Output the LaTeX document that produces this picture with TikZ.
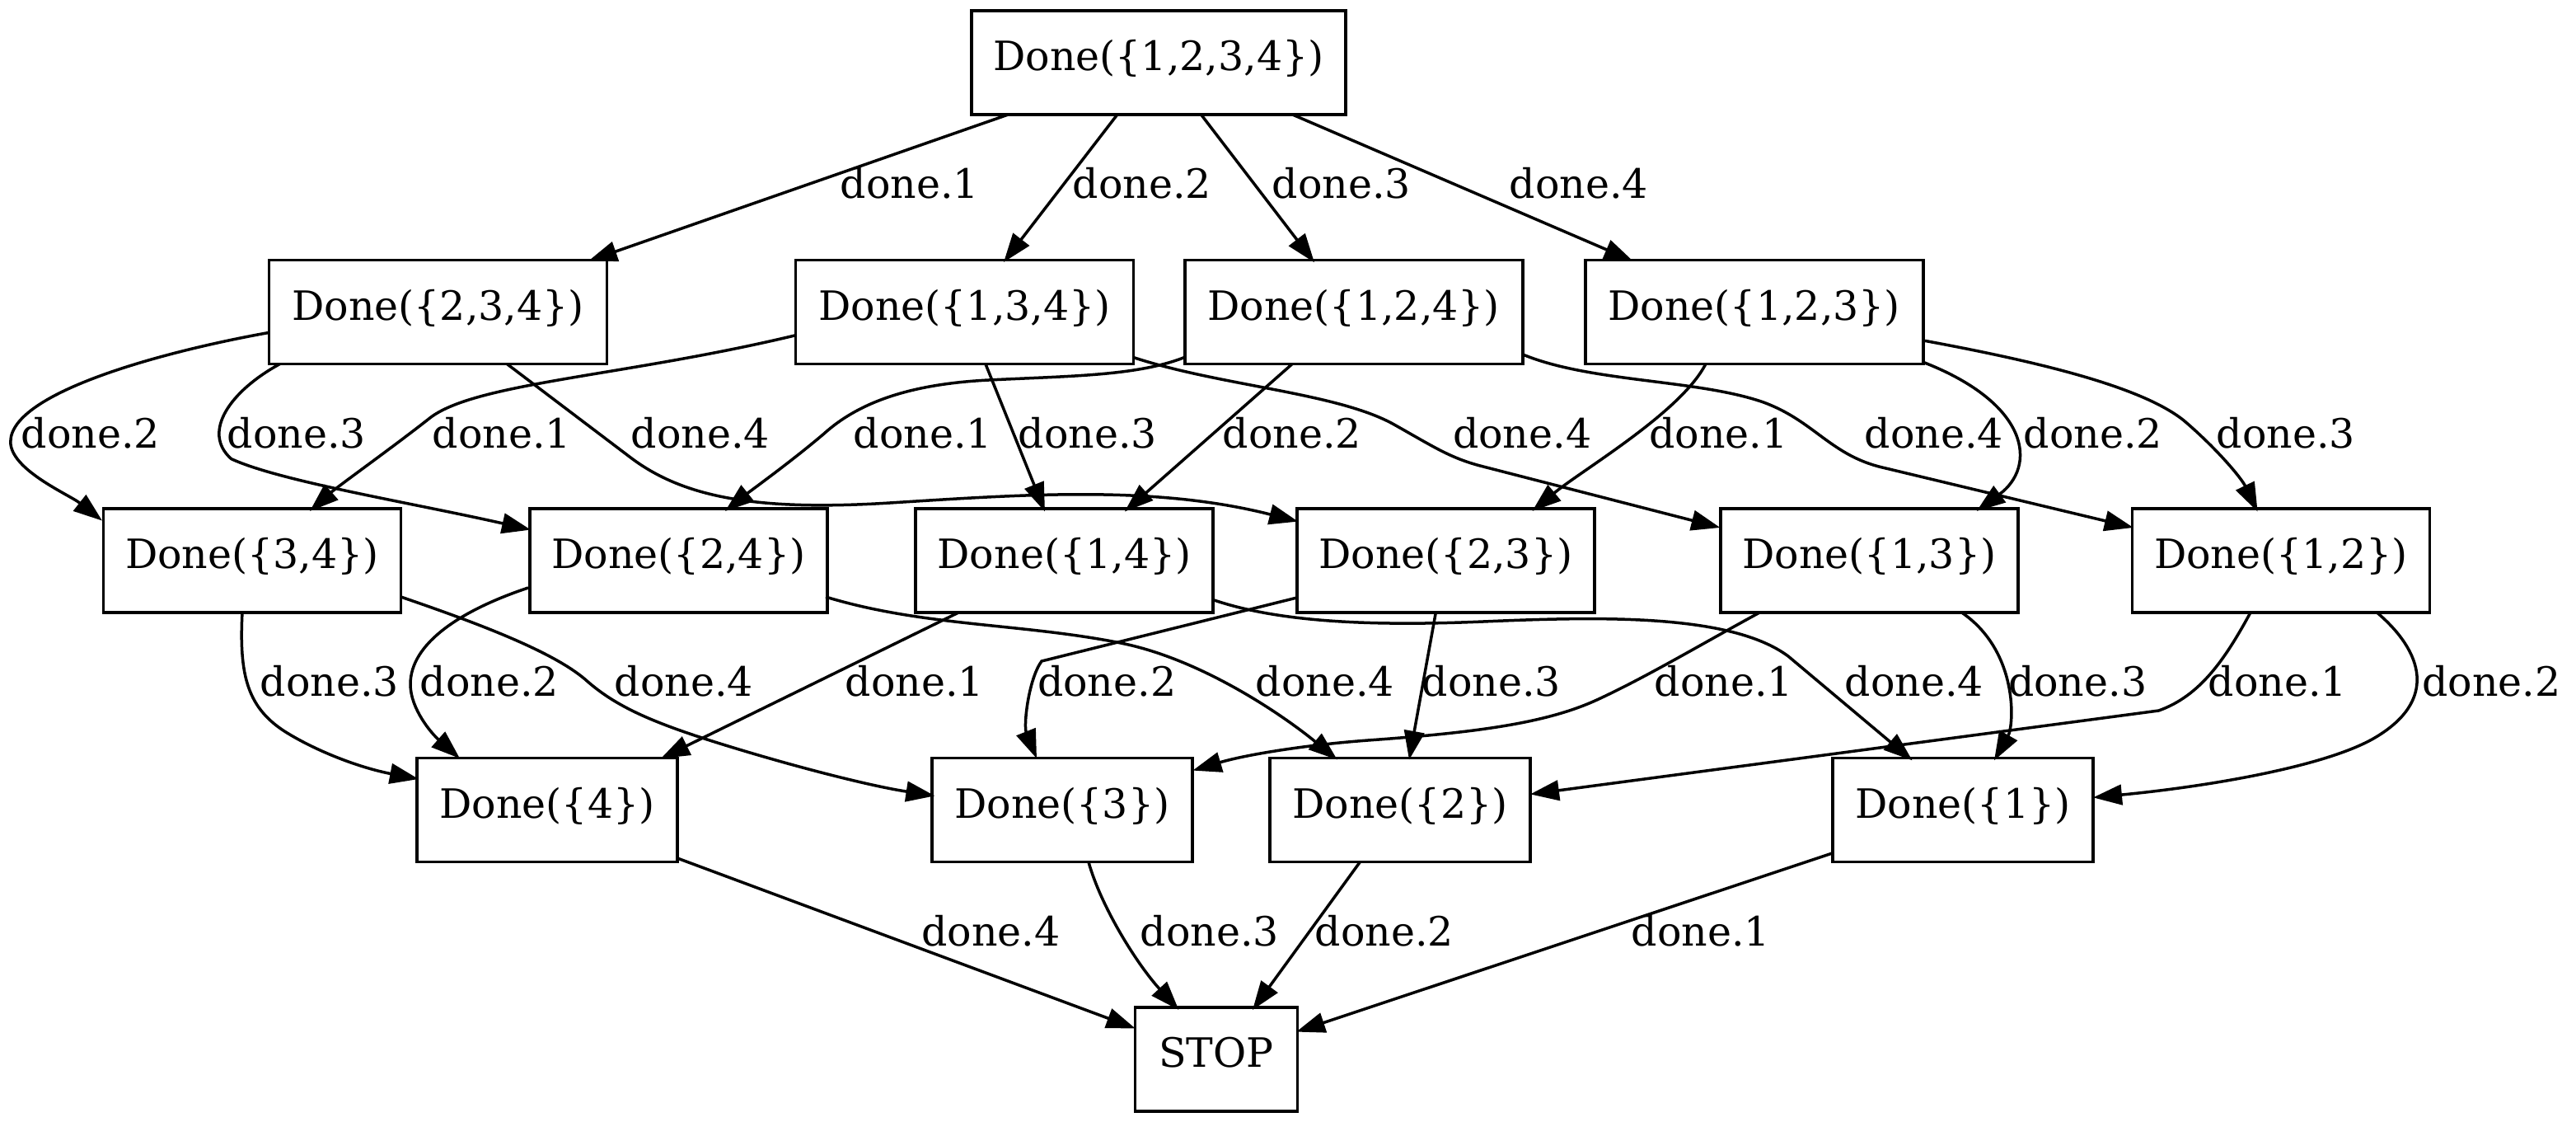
\documentclass[tikz,border=0pt]{standalone}
\usepackage{fontspec}
\setmainfont{DejaVu Serif}
\usetikzlibrary{arrows.meta,calc}
\begin{document}
\begin{tikzpicture}[x=0.5714pt,y=-0.5714pt,
  box/.style={draw,line width=1pt,inner sep=0pt,minimum height=36pt,text height=0.8em,text depth=0.25em,font=\fontsize{14}{17}\selectfont},
  wA/.style={box,minimum width=129.7pt},
  wB/.style={box,minimum width=117.1pt},
  wC/.style={box,minimum width=103.1pt},
  wD/.style={box,minimum width=90.3pt},
  wE/.style={box,minimum width=56.4pt},
  lbl/.style={anchor=base,inner sep=0pt,font=\fontsize{14}{17}\selectfont},
  arr/.style={line width=1pt,-{Triangle[length=10pt,width=7pt]}}]
\useasboundingbox (0,0) rectangle (1563,680.5);
% nodes
\node[wA] (N1234) at (703,38) {Done(\{1,2,3,4\})};
\node[wB] (N234) at (265.8,189.3) {Done(\{2,3,4\})};
\node[wB] (N134) at (585.3,189.3) {Done(\{1,3,4\})};
\node[wB] (N124) at (821.4,189.3) {Done(\{1,2,4\})};
\node[wB] (N123) at (1064.4,189.3) {Done(\{1,2,3\})};
\node[wC] (N34) at (153,340) {Done(\{3,4\})};
\node[wC] (N24) at (411.7,340) {Done(\{2,4\})};
\node[wC] (N14) at (645.8,340) {Done(\{1,4\})};
\node[wC] (N23) at (877.2,340) {Done(\{2,3\})};
\node[wC] (N13) at (1134.2,340) {Done(\{1,3\})};
\node[wC] (N12) at (1384,340) {Done(\{1,2\})};
\node[wD] (N4) at (332,491.3) {Done(\{4\})};
\node[wD] (N3) at (644.4,491.3) {Done(\{3\})};
\node[wD] (N2) at (849.5,491.3) {Done(\{2\})};
\node[wD] (N1) at (1191,491.3) {Done(\{1\})};
\node[wE] (STOP) at (738,642.5) {STOP};
% row 1 -> row 2
\draw[arr] ($(N1234)+(-91,31.4)$) -- ($(N234)+(91.2,-31)$);
\draw[arr] ($(N1234)+(-25,31.4)$) -- ($(N134)+(23.7,-30.3)$);
\draw[arr] ($(N1234)+(25.7,31.4)$) -- ($(N124)+(-23.9,-30.1)$);
\draw[arr] ($(N1234)+(81,31.4)$) -- ($(N123)+(-73.6,-31)$);
\node[lbl] (l1) at (552,120.5) {done.1};
\node[lbl] (l2) at (693,120.5) {done.2};
\node[lbl] (l3) at (814,120.5) {done.3};
\node[lbl] (l4) at (958,120.5) {done.4};
% row 2 -> row 3
\draw[arr] ($(N234)+(-102.5,12.4)$) .. controls (100,213) and (6.4,238) .. (6.4,268) .. controls (6.4,285) and (42,300) .. ($(N34)+(-91,-24.2)$);
\draw[arr] ($(N234)+(-96.1,31.5)$) .. controls (140,237) and (122,262) .. (140.3,278.3) .. controls (170,292) and (250,305) .. ($(N24)+(-89.7,-18.7)$);
\draw[arr] ($(N234)+(41.9,31.5)$) -- (382.6,277.5) .. controls (415,302) and (460,310) .. (540,305) .. controls (620,300) and (700,294) .. ($(N23)+(-89.6,-23.7)$);
\draw[arr] ($(N134)+(-102.3,14)$) .. controls (380,228) and (290,232) .. (261.5,253) .. controls (240,270) and (205,295) .. ($(N34)+(35,-30)$);
\draw[arr] ($(N134)+(12.7,31.5)$) -- ($(N14)+(-11.8,-29.7)$);
\draw[arr] ($(N134)+(102.2,27.4)$) .. controls (740,234) and (810,238) .. (845,257) .. controls (870,271) and (880,278) .. (900,283) -- ($(N13)+(-90.5,-20)$);
\draw[arr] ($(N124)+(-102.6,27.4)$) .. controls (690,228) and (650,228) .. (600,230.5) .. controls (550,233) and (520,245) .. (500,263) .. controls (480,280) and (455,298) .. ($(N24)+(28.3,-30)$);
\draw[arr] ($(N124)+(-37.4,31.5)$) -- ($(N14)+(36.6,-29.7)$);
\draw[arr] ($(N124)+(102.6,25.7)$) .. controls (965,232) and (1030,230) .. (1070,244) .. controls (1100,255) and (1110,275) .. (1140,283) -- ($(N12)+(-89.6,-20)$);
\draw[arr] ($(N123)+(-29.5,31.5)$) .. controls (1020,250) and (960,285) .. ($(N23)+(52.5,-30)$);
\draw[arr] ($(N123)+(102.6,30.4)$) .. controls (1232,245) and (1236,283) .. ($(N13)+(65.1,-30)$);
\draw[arr] ($(N123)+(103.6,17.4)$) .. controls (1240,220) and (1300,235) .. (1325,255) .. controls (1345,272) and (1360,290) .. ($(N12)+(-14.2,-29.7)$);
\node[lbl] (l5) at (55,271.7) {done.2};
\node[lbl] (l6) at (180,271.7) {done.3};
\node[lbl] (l7) at (304.5,271.7) {done.1};
\node[lbl] (l8) at (425,271.7) {done.4};
\node[lbl] (l9) at (560,271.7) {done.1};
\node[lbl] (l10) at (660,271.7) {done.3};
\node[lbl] (l11) at (784,271.7) {done.2};
\node[lbl] (l12) at (923.6,271.7) {done.4};
\node[lbl] (l13) at (1042.8,271.7) {done.1};
\node[lbl] (l14) at (1173.4,271.7) {done.4};
\node[lbl] (l15) at (1270,271.7) {done.2};
\node[lbl] (l16) at (1387,271.7) {done.3};
% row 3 -> row 4
\draw[arr] ($(N34)+(-6,31.3)$) .. controls (145,410) and (150,430) .. (175,445) .. controls (195,457) and (220,466) .. ($(N4)+(-78,-18.8)$);
\draw[arr] ($(N34)+(90.2,22)$) .. controls (290,378) and (335,395) .. (355,412) .. controls (375,430) and (400,440) .. (450,455) .. controls (490,467) and (530,477) .. ($(N3)+(-77.2,-8.6)$);
\draw[arr] ($(N24)+(-91.2,16.5)$) .. controls (280,370) and (249,390) .. (249,415) .. controls (249,430) and (262,445) .. ($(N4)+(-53,-31.3)$);
\draw[arr] ($(N24)+(89.3,22)$) .. controls (560,380) and (620,378) .. (680,390) .. controls (730,400) and (780,435) .. ($(N2)+(-38.1,-30.5)$);
\draw[arr] ($(N14)+(-63.8,31.3)$) -- ($(N4)+(69,-31.3)$);
\draw[arr] ($(N14)+(90.9,24)$) .. controls (775,377) and (830,380) .. (900,377) .. controls (970,374) and (1050,372) .. (1085,398) -- ($(N1)+(-30.7,-30.1)$);
\draw[arr] ($(N23)+(-90.3,22.5)$) -- (632,401) .. controls (624,412) and (621,440) .. ($(N3)+(-15.4,-31.3)$);
\draw[arr] ($(N23)+(-6,31.3)$) -- ($(N2)+(5.5,-30.5)$);
\draw[arr] ($(N13)+(-66.2,31.3)$) .. controls (1030,392) and (1000,410) .. (970,424) .. controls (940,438) and (900,444) .. (830,449) .. controls (790,452) and (755,458) .. ($(N3)+(79.3,-24)$);
\draw[arr] ($(N13)+(55.8,31.3)$) .. controls (1225,395) and (1222,440) .. ($(N1)+(19,-30.1)$);
\draw[arr] ($(N12)+(-18.4,31.3)$) .. controls (1350,400) and (1335,422) .. (1309.8,431) -- ($(N2)+(79,-9.6)$);
\draw[arr] ($(N12)+(58,31.3)$) .. controls (1470,395) and (1480,425) .. (1440,448) .. controls (1410,465) and (1340,477) .. ($(N1)+(79,-7.6)$);
\node[lbl] (l17) at (200,422.3) {done.3};
\node[lbl] (l18) at (297,422.3) {done.2};
\node[lbl] (l19) at (415,422.3) {done.4};
\node[lbl] (l20) at (555,422.3) {done.1};
\node[lbl] (l21) at (671.6,422.3) {done.2};
\node[lbl] (l22) at (804,422.3) {done.4};
\node[lbl] (l23) at (905,422.3) {done.3};
\node[lbl] (l24) at (1046,422.3) {done.1};
\node[lbl] (l25) at (1161.5,422.3) {done.4};
\node[lbl] (l26) at (1260.6,422.3) {done.3};
\node[lbl] (l27) at (1382,422.3) {done.1};
\node[lbl] (l28) at (1511.7,422.3) {done.2};
% row 4 -> STOP
\draw[arr] ($(N4)+(79,29.2)$) -- ($(STOP)+(-49.2,-18.8)$);
\draw[arr] ($(N3)+(16,31.2)$) .. controls (668,550) and (690,585) .. ($(STOP)+(-22.8,-30)$);
\draw[arr] ($(N2)+(-24.1,31.2)$) -- ($(STOP)+(22,-30)$);
\draw[arr] ($(N1)+(-79,26.1)$) -- ($(STOP)+(48.5,-16.7)$);
\node[lbl] (l29) at (601.3,573.6) {done.4};
\node[lbl] (l30) at (734,573.6) {done.3};
\node[lbl] (l31) at (840,573.6) {done.2};
\node[lbl] (l32) at (1032,573.6) {done.1};
\end{tikzpicture}
\end{document}
